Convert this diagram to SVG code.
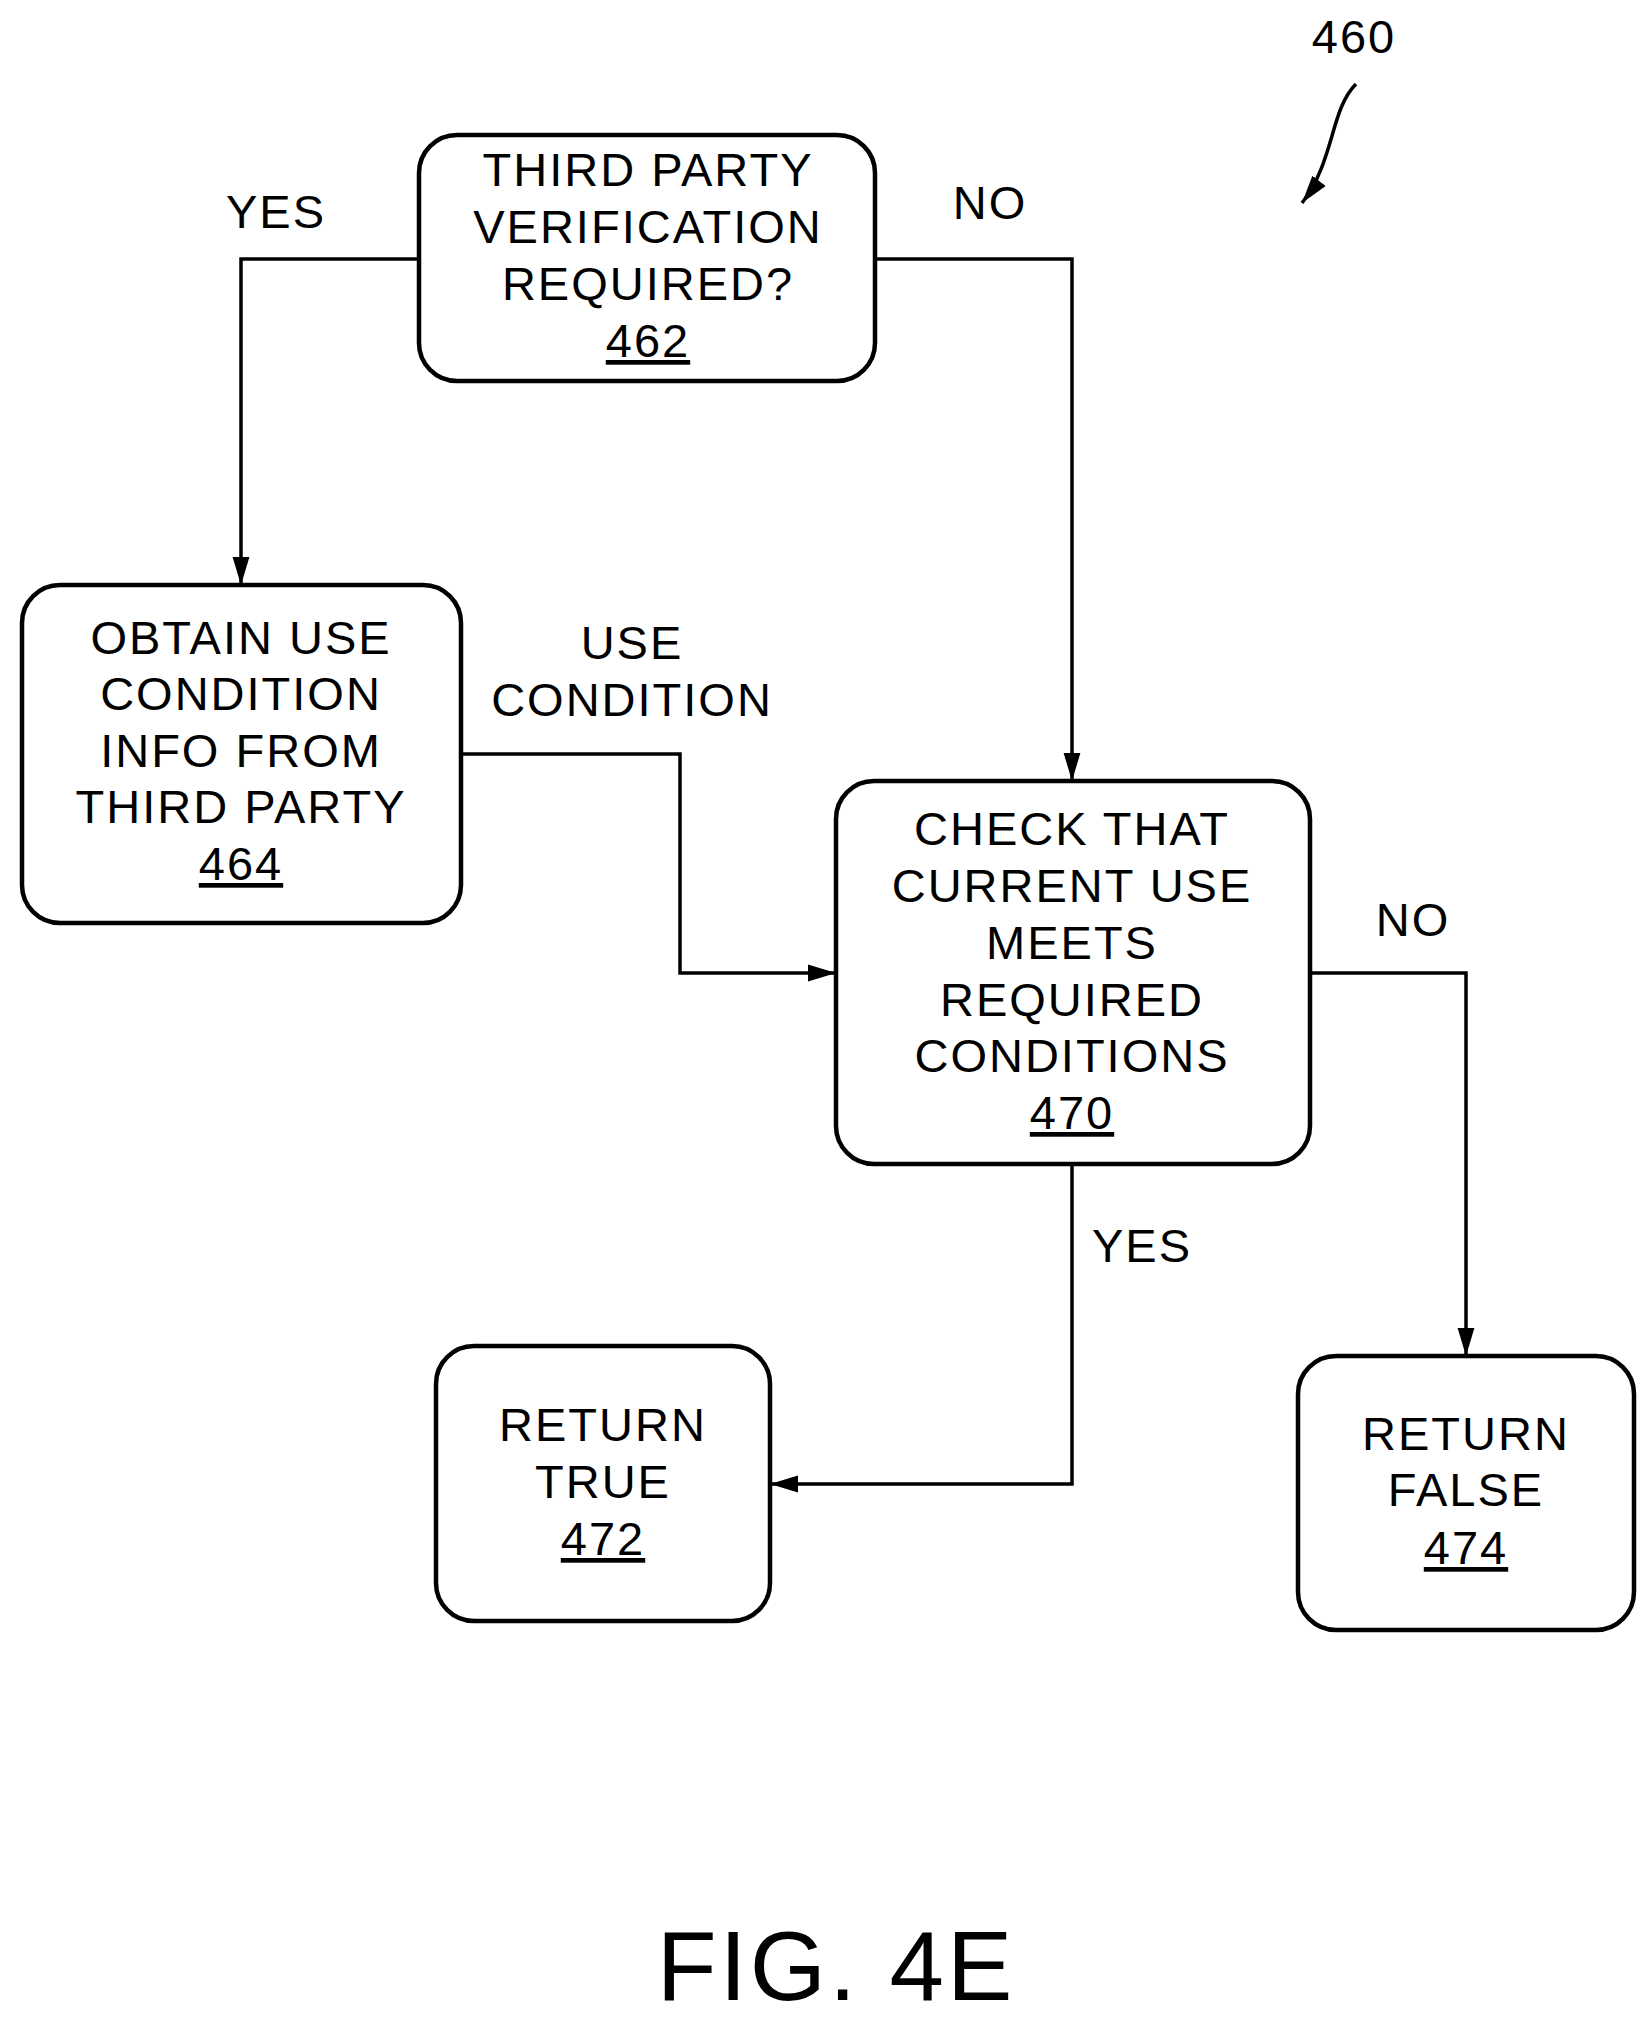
<svg xmlns="http://www.w3.org/2000/svg" width="1652" height="2017" viewBox="0 0 1652 2017">
<style>
.box{fill:#fff;stroke:#000;stroke-width:4.5}
.c{fill:none;stroke:#000;stroke-width:3.5}
text{font-family:"Liberation Sans",Arial,sans-serif;font-size:47px;letter-spacing:2px;text-anchor:middle;fill:#000}
.u{text-decoration:underline}
</style>
<defs>
<marker id="ar" viewBox="0 0 10 10" refX="10" refY="5" markerWidth="28" markerHeight="28" markerUnits="userSpaceOnUse" orient="auto">
<path d="M0,2 L10,5 L0,8 z"/>
</marker>
</defs>
<g id="connectors">
<path class="c" d="M419,259 H241 V585" marker-end="url(#ar)"/>
<path class="c" d="M875,259 H1072 V781" marker-end="url(#ar)"/>
<path class="c" d="M461,754 H680 V973 H836" marker-end="url(#ar)"/>
<path class="c" d="M1310,973 H1466 V1356" marker-end="url(#ar)"/>
<path class="c" d="M1072,1164 V1484 H770" marker-end="url(#ar)"/>
<path class="c" d="M1356,84 C1330,110 1335,160 1302,203" marker-end="url(#ar)"/>
<text x="276" y="228">YES</text>
<text x="990" y="219">NO</text>
<text x="632" y="659">USE</text>
<text x="632" y="716">CONDITION</text>
<text x="1413" y="936">NO</text>
<text x="1142" y="1262">YES</text>
</g>
<g id="n462"><rect class="box" x="419" y="135" width="456" height="246" rx="38"/>
<text x="648" y="186">THIRD PARTY</text><text x="648" y="243">VERIFICATION</text><text x="648" y="300">REQUIRED?</text><text class="u" x="648" y="357">462</text></g>
<g id="n464"><rect class="box" x="22" y="585" width="439" height="338" rx="38"/>
<text x="241" y="654">OBTAIN USE</text><text x="241" y="710">CONDITION</text><text x="241" y="767">INFO FROM</text><text x="241" y="823">THIRD PARTY</text><text class="u" x="241" y="880">464</text></g>
<g id="n470"><rect class="box" x="836" y="781" width="474" height="383" rx="38"/>
<text x="1072" y="845">CHECK THAT</text><text x="1072" y="902">CURRENT USE</text><text x="1072" y="959">MEETS</text><text x="1072" y="1016">REQUIRED</text><text x="1072" y="1072">CONDITIONS</text><text class="u" x="1072" y="1129">470</text></g>
<g id="n472"><rect class="box" x="436" y="1346" width="334" height="275" rx="38"/>
<text x="603" y="1441">RETURN</text><text x="603" y="1498">TRUE</text><text class="u" x="603" y="1555">472</text></g>
<g id="n474"><rect class="box" x="1298" y="1356" width="336" height="274" rx="38"/>
<text x="1466" y="1450">RETURN</text><text x="1466" y="1506">FALSE</text><text class="u" x="1466" y="1564">474</text></g>
<text x="1354" y="53">460</text>
<text x="836" y="2000" style="font-size:98px;letter-spacing:3px">FIG. 4E</text>
</svg>
